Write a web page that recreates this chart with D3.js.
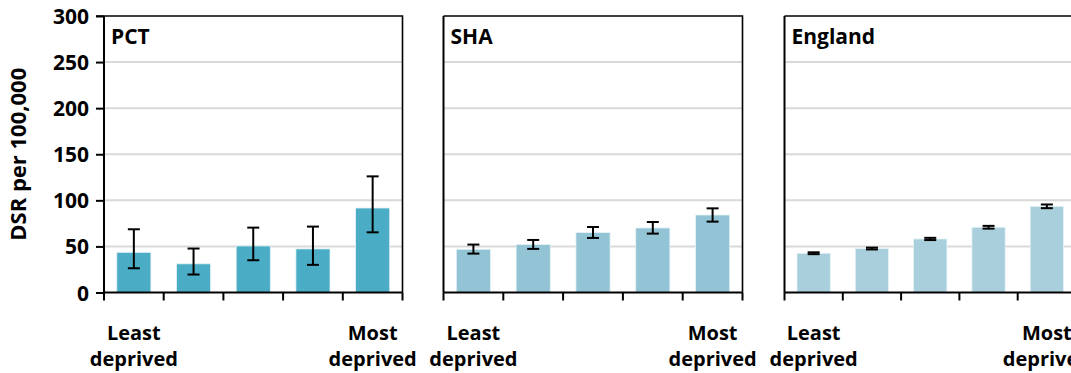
<!DOCTYPE html>
<html>
<head>
<meta charset="utf-8">
<script src="https://cdn.jsdelivr.net/npm/d3@7"></script>
<style>
  html, body { margin: 0; padding: 0; background: #fff; }
  svg { display: block; }
  text { font-family: "Open Sans", Lato, "Liberation Sans", sans-serif; font-weight: 700; fill: #000; }
</style>
</head>
<body>
<svg id="chart" width="1071" height="373"></svg>
<script>
// Deprivation quintiles (least -> most deprived)
const quintiles = ["Q1", "Q2", "Q3", "Q4", "Q5"];
const areas = ["PCT", "SHA", "England"];

// Directly standardised rate per 100,000, with 95% confidence limits
const pctRate  = [43.6, 31.1, 50.5, 47.3, 91.7];
const pctLow   = [26.3, 19.5, 35.0, 30.0, 65.3];
const pctHigh  = [68.6, 47.7, 70.4, 71.5, 126.0];

const shaRate  = [46.9, 52.0, 65.0, 70.0, 84.1];
const shaLow   = [42.2, 47.3, 59.2, 63.9, 76.9];
const shaHigh  = [52.0, 57.0, 71.1, 76.5, 91.3];

const engRate  = [42.6, 47.7, 58.1, 70.8, 93.5];
const engLow   = [41.6, 46.7, 56.9, 69.3, 91.5];
const engHigh  = [43.6, 48.7, 59.3, 72.3, 95.5];

const yTicks = [0, 50, 100, 150, 200, 250, 300];
const firstLabel = ["Least", "deprived"];
const lastLabel = ["Most", "deprived"];

const barColors = ["#4bacc6", "#93c4d5", "#a9cfdd"];

const panels = [
  { name: areas[0], rate: pctRate, low: pctLow, high: pctHigh, color: barColors[0], x0: 104, x1: 402.5 },
  { name: areas[1], rate: shaRate, low: shaLow, high: shaHigh, color: barColors[1], x0: 443.5, x1: 742.5 },
  { name: areas[2], rate: engRate, low: engLow, high: engHigh, color: barColors[2], x0: 784.5, x1: 1076 }
];

const svg = d3.select("#chart");
const plotTop = 16, plotBottom = 292.5;
const fontStack = "'Open Sans', Lato, sans-serif";

const y = d3.scaleLinear().domain([0, 300]).range([plotBottom, plotTop]);

// Shared y axis on the first panel
const yAxis = d3.axisLeft(y).tickValues(yTicks).tickSize(8).tickPadding(7);
const ya = svg.append("g")
  .attr("transform", `translate(${panels[0].x0},0)`)
  .call(yAxis);
ya.select(".domain").remove();
ya.selectAll(".tick line").attr("stroke", "#000").attr("stroke-width", 2);
ya.selectAll(".tick text").attr("font-size", 21).attr("dy", "0.36em")
  .style("font-family", fontStack).style("font-weight", 700);

svg.append("text")
  .attr("transform", `translate(26,${(plotTop + plotBottom) / 2}) rotate(-90)`)
  .attr("text-anchor", "middle")
  .attr("font-size", 22)
  .text("DSR per 100,000");

panels.forEach((p, pi) => {
  const x = d3.scaleBand()
    .domain(quintiles)
    .range([p.x0, p.x1])
    .paddingInner(0.4286)
    .paddingOuter(0.2143);
  const step = x.step();
  const g = svg.append("g");

  // Gridlines
  g.selectAll("line.grid")
    .data(yTicks.filter(t => t > 0 && t < 300))
    .join("line")
    .attr("class", "grid")
    .attr("x1", p.x0).attr("x2", p.x1)
    .attr("y1", d => y(d)).attr("y2", d => y(d))
    .attr("stroke", "#d9d9d9").attr("stroke-width", 2);

  // Bars
  g.selectAll("rect.bar")
    .data(quintiles)
    .join("rect")
    .attr("class", "bar")
    .attr("x", d => x(d))
    .attr("width", x.bandwidth())
    .attr("y", (d, i) => y(p.rate[i]))
    .attr("height", (d, i) => y(0) - y(p.rate[i]))
    .attr("fill", p.color)
    .attr("stroke", "#e6f3f7").attr("stroke-width", 0.8);

  // Confidence interval whiskers
  const eb = g.selectAll("g.err").data(quintiles).join("g").attr("class", "err");
  const cx = d => x(d) + x.bandwidth() / 2;
  eb.append("line")
    .attr("x1", cx).attr("x2", cx)
    .attr("y1", (d, i) => y(p.low[i])).attr("y2", (d, i) => y(p.high[i]))
    .attr("stroke", "#000").attr("stroke-width", 2);
  [p.low, p.high].forEach(arr => {
    eb.append("line")
      .attr("x1", d => cx(d) - 6).attr("x2", d => cx(d) + 6)
      .attr("y1", (d, i) => y(arr[i])).attr("y2", (d, i) => y(arr[i]))
      .attr("stroke", "#000").attr("stroke-width", 2);
  });

  // Frame: top and right edges
  g.append("path")
    .attr("d", `M${p.x0 - (pi === 0 ? 8 : 0)},${plotTop}H${p.x1}V${plotBottom}`)
    .attr("fill", "none").attr("stroke", "#000").attr("stroke-width", 1.6);

  // Left axis line
  g.append("line")
    .attr("x1", p.x0).attr("x2", p.x0).attr("y1", plotTop).attr("y2", plotBottom)
    .attr("stroke", "#000").attr("stroke-width", 2);

  // Category axis with ticks between quintiles
  g.append("line")
    .attr("x1", p.x0).attr("x2", p.x1).attr("y1", plotBottom).attr("y2", plotBottom)
    .attr("stroke", "#000").attr("stroke-width", 2);
  g.selectAll("line.ctick")
    .data(d3.range(quintiles.length + 1))
    .join("line")
    .attr("class", "ctick")
    .attr("x1", i => p.x0 + i * step).attr("x2", i => p.x0 + i * step)
    .attr("y1", plotBottom).attr("y2", plotBottom + 8)
    .attr("stroke", "#000").attr("stroke-width", 2);

  // Panel title
  g.append("text")
    .attr("x", p.x0 + 7).attr("y", 44)
    .attr("font-size", 21)
    .text(p.name);

  // End labels under first and last quintile
  const ends = [[quintiles[0], firstLabel], [quintiles[quintiles.length - 1], lastLabel]];
  ends.forEach(([q, lines]) => {
    const t = g.append("text")
      .attr("text-anchor", "middle")
      .attr("font-size", 20);
    lines.forEach((s, k) => {
      t.append("tspan")
        .attr("x", x(q) + x.bandwidth() / 2)
        .attr("y", 340 + k * 26)
        .text(s);
    });
  });
});
</script>
</body>
</html>
